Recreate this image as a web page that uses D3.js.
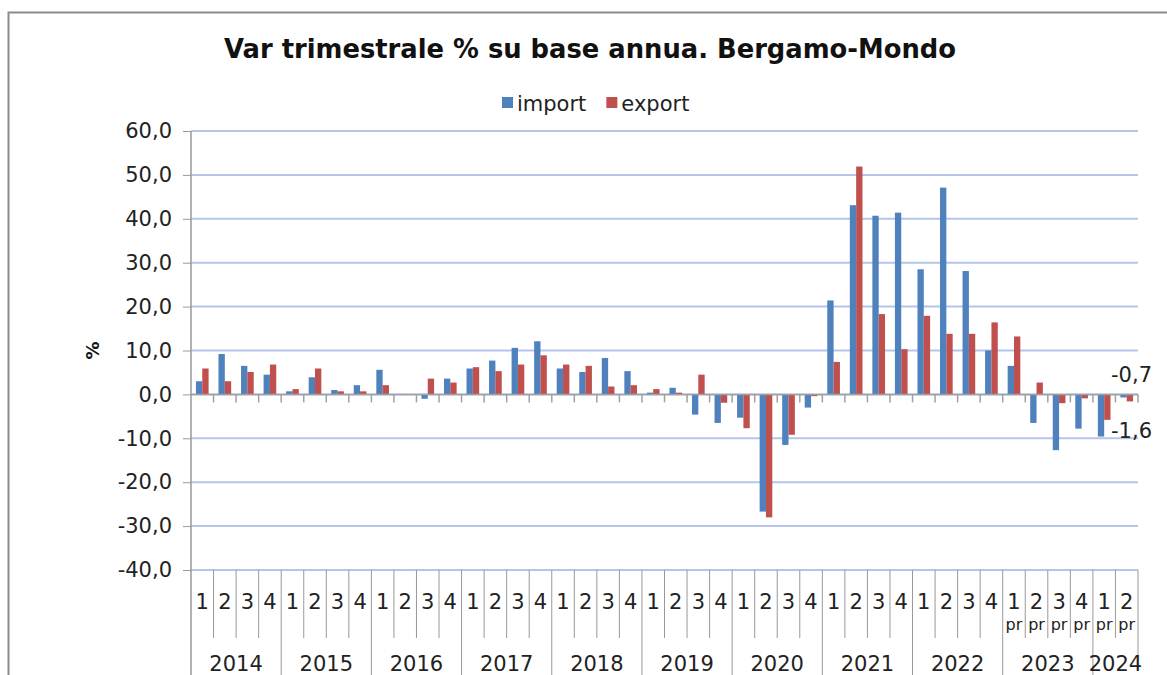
<!DOCTYPE html>
<html>
<head>
<meta charset="utf-8">
<script src="https://d3js.org/d3.v7.min.js"></script>
<style>
  body { margin: 0; background: #fff; }
  text { font-family: "DejaVu Sans", Verdana, sans-serif; }
</style>
</head>
<body>
<div id="chart"></div>
<script>
// quarters 2014 Q1 .. 2024 Q2
var years = ["2014", "2015", "2016", "2017", "2018", "2019", "2020", "2021", "2022", "2023", "2024"];
var quarters = ["1","2","3","4","1","2","3","4","1","2","3","4","1","2","3","4","1","2","3","4","1","2","3","4",
                "1","2","3","4","1","2","3","4","1","2","3","4","1","2","3","4","1","2"];
var provisional = [36, 37, 38, 39, 40, 41]; // quarters marked "pr"

var importVals = [3.0, 9.2, 6.5, 4.5, 0.7, 3.9, 1.0, 2.1, 5.6, 0.0, -1.0, 3.6,
                  5.9, 7.7, 10.6, 12.1, 5.9, 5.1, 8.3, 5.3, 0.4, 1.5, -4.6, -6.5,
                  -5.3, -26.7, -11.5, -3.0, 21.4, 43.1, 40.7, 41.4, 28.5, 47.1, 28.1, 10.0,
                  6.5, -6.5, -12.7, -7.8, -9.6, -0.7];
var exportVals = [5.9, 3.0, 5.1, 6.8, 1.2, 5.9, 0.7, 0.7, 2.1, 0.0, 3.6, 2.7,
                  6.2, 5.3, 6.8, 8.9, 6.8, 6.5, 1.8, 2.1, 1.2, 0.4, 4.5, -1.9,
                  -7.7, -28.0, -9.2, -0.4, 7.4, 51.9, 18.3, 10.3, 17.9, 13.8, 13.8, 16.4,
                  13.2, 2.7, -2.0, -0.9, -5.8, -1.6];
var yTicks = [-40, -30, -20, -10, 0, 10, 20, 30, 40, 50, 60];
var seriesNames = ["import", "export"];
var colors = { "import": "#4F81BD", "export": "#C0504D" };

var W = 1167, H = 675;
var plotLeft = 191, plotRight = 1138, plotTop = 131, plotBottom = 570;

var svg = d3.select("#chart").append("svg")
    .attr("width", W)
    .attr("height", H);

// outer frame (only top/left visible)
svg.append("rect")
    .attr("x", 8.5).attr("y", 12.5)
    .attr("width", W + 20).attr("height", H + 20)
    .attr("fill", "none")
    .attr("stroke", "#8c8c8c")
    .attr("stroke-width", 2);

var idx = d3.range(quarters.length);

var x0 = d3.scaleBand()
    .domain(idx)
    .range([plotLeft, plotRight])
    .padding(0);

var x1 = d3.scaleBand()
    .domain(seriesNames)
    .range([0, x0.bandwidth()])
    .paddingInner(0)
    .paddingOuter(0.78);

var yScale = d3.scaleLinear()
    .domain([-40, 60])
    .range([plotBottom, plotTop]);

// italian style numbers with plain hyphen minus
var itLocale = d3.formatLocale({ decimal: ",", thousands: ".", grouping: [3], currency: ["", " €"], minus: "-" });
var fmt = itLocale.format(".1f");

// gridlines
svg.append("g").selectAll("line")
    .data(yTicks)
    .enter().append("line")
    .attr("x1", plotLeft).attr("x2", plotRight)
    .attr("y1", function(d) { return yScale(d); })
    .attr("y2", function(d) { return yScale(d); })
    .attr("stroke", "#b3c6ea")
    .attr("stroke-width", 2);

// y axis
var yAxis = d3.axisLeft(yScale)
    .tickValues(yTicks)
    .tickSize(8)
    .tickPadding(11)
    .tickFormat(fmt);

var yG = svg.append("g")
    .attr("transform", "translate(" + plotLeft + ",0)")
    .call(yAxis);
yG.select(".domain").remove();
yG.selectAll(".tick line").attr("stroke", "#999");
yG.selectAll("text")
    .attr("fill", "#222")
    .style("font-family", "'DejaVu Sans', Verdana, sans-serif")
    .style("font-size", "21px");

// bars
var rows = idx.map(function(i) {
    return { i: i, "import": importVals[i], "export": exportVals[i] };
});

var groups = svg.append("g").selectAll("g")
    .data(rows)
    .enter().append("g")
    .attr("transform", function(d) { return "translate(" + x0(d.i) + ",0)"; });

groups.selectAll("rect")
    .data(function(d) { return seriesNames.map(function(k) { return { key: k, value: d[k] }; }); })
    .enter().append("rect")
    .attr("x", function(d) { return x1(d.key); })
    .attr("width", x1.bandwidth())
    .attr("y", function(d) { return yScale(Math.max(0, d.value)); })
    .attr("height", function(d) { return Math.abs(yScale(d.value) - yScale(0)); })
    .attr("fill", function(d) { return colors[d.key]; });

// zero line + small ticks on it
svg.append("line")
    .attr("x1", plotLeft).attr("x2", plotRight)
    .attr("y1", yScale(0)).attr("y2", yScale(0))
    .attr("stroke", "#a0a0a0").attr("stroke-width", 1.5);

svg.append("g").selectAll("line")
    .data(d3.range(1, quarters.length + 1))
    .enter().append("line")
    .attr("x1", function(d) { return plotLeft + d * x0.step(); })
    .attr("x2", function(d) { return plotLeft + d * x0.step(); })
    .attr("y1", yScale(0)).attr("y2", yScale(0) + 8)
    .attr("stroke", "#a0a0a0").attr("stroke-width", 1.5);

// vertical axis line
svg.append("line")
    .attr("x1", plotLeft).attr("x2", plotLeft)
    .attr("y1", plotTop).attr("y2", H)
    .attr("stroke", "#999").attr("stroke-width", 1.5);

// category axis: separators
var boundaries = d3.range(1, quarters.length + 1);
svg.append("g").selectAll("line")
    .data(boundaries)
    .enter().append("line")
    .attr("x1", function(d) { return plotLeft + d * x0.step(); })
    .attr("x2", function(d) { return plotLeft + d * x0.step(); })
    .attr("y1", plotBottom)
    .attr("y2", function(d) { return (d % 4 === 0) ? H : (d === quarters.length ? 657 : 638); })
    .attr("stroke", "#999").attr("stroke-width", 1);

// quarter labels
svg.append("g").selectAll("text")
    .data(idx)
    .enter().append("text")
    .attr("x", function(d) { return x0(d) + x0.bandwidth() / 2; })
    .attr("y", 609)
    .attr("text-anchor", "middle")
    .attr("fill", "#222")
    .style("font-size", "21px")
    .text(function(d) { return quarters[d]; });

svg.append("g").selectAll("text")
    .data(provisional)
    .enter().append("text")
    .attr("x", function(d) { return x0(d) + x0.bandwidth() / 2; })
    .attr("y", 630)
    .attr("text-anchor", "middle")
    .attr("fill", "#222")
    .style("font-size", "16px")
    .text("pr");

// year labels
svg.append("g").selectAll("text")
    .data(years)
    .enter().append("text")
    .attr("x", function(d, i) {
        var a = i * 4, b = Math.min(i * 4 + 4, quarters.length);
        return plotLeft + (a + b) / 2 * x0.step();
    })
    .attr("y", 671)
    .attr("text-anchor", "middle")
    .attr("fill", "#222")
    .style("font-size", "21px")
    .text(function(d) { return d; });

// data labels for last quarter
var last = quarters.length - 1;
svg.append("text")
    .attr("x", x0(last) + x0.bandwidth() + 14)
    .attr("y", yScale(0) - 12)
    .attr("text-anchor", "end")
    .attr("fill", "#222")
    .style("font-size", "21px")
    .text(fmt(importVals[last]));
svg.append("text")
    .attr("x", x0(last) + x0.bandwidth() + 14)
    .attr("y", yScale(-9.9))
    .attr("text-anchor", "end")
    .attr("fill", "#222")
    .style("font-size", "21px")
    .text(fmt(exportVals[last]));

// y title
svg.append("text")
    .attr("transform", "translate(99," + yScale(10) + ") rotate(-90)")
    .attr("text-anchor", "middle")
    .attr("font-weight", "bold")
    .attr("fill", "#111")
    .style("font-size", "18px")
    .text("%");

// title
svg.append("text")
    .attr("x", 590)
    .attr("y", 58)
    .attr("text-anchor", "middle")
    .attr("font-weight", "bold")
    .attr("fill", "#111")
    .style("font-size", "25.8px")
    .text("Var trimestrale % su base annua. Bergamo-Mondo");

// legend
var legend = svg.append("g").attr("transform", "translate(502,0)");
var lx = 0;
seriesNames.forEach(function(k) {
    legend.append("rect")
        .attr("x", lx).attr("y", 97)
        .attr("width", 11).attr("height", 11)
        .attr("fill", colors[k]);
    var t = legend.append("text")
        .attr("x", lx + 15).attr("y", 111)
        .attr("fill", "#222")
        .style("font-size", "21px")
        .text(k);
    lx += 15 + t.node().getComputedTextLength() + 20;
});
</script>
</body>
</html>
